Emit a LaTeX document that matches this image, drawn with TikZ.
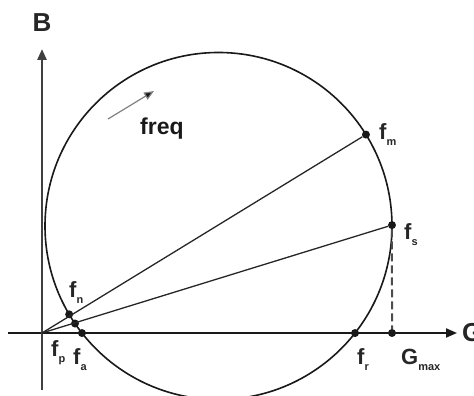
\documentclass[tikz,border=0pt]{standalone}
\usepackage{fontspec}
\setmainfont{Liberation Sans}
\usetikzlibrary{arrows.meta,calc}
\newcommand{\flab}[2]{#1\raisebox{-0.5ex}{\fontsize{11}{11}\selectfont #2}}
\tikzset{
  dot/.style={circle,fill=black!90,inner sep=0pt,minimum size=8pt},
  lbl/.style={inner sep=0pt,anchor=base west,text=black!85,font=\fontsize{22}{24}\selectfont\bfseries},
  axis/.style={line width=2pt,black!90,-{Triangle[length=11pt,width=9pt]}},
}
\begin{document}
\begin{tikzpicture}[x=1pt,y=1pt]
\useasboundingbox (0,0) rectangle (474,396);
% axes
\coordinate (O) at (42,63);
\coordinate (xl) at (8,63);
\coordinate (xr) at (457,63);
\coordinate (yb) at (42,6);
\coordinate (yt) at (42,347);
\draw[axis] (xl) -- (xr);
\draw[axis,black!75,line width=2.6pt] (yb) -- (yt);
\node[text=black!85,font=\fontsize{26}{28}\selectfont\bfseries] (B) at (42,373) {B};
\node[anchor=west,inner sep=0pt,text=black!85,font=\fontsize{26}{28}\selectfont\bfseries] (G) at (462,63) {G};

% circle
\coordinate (c) at (218.5,170);
\draw[line width=1.6pt,black!90] (c) circle (173.5);

% points
\node[dot] (fm) at ($(c)+(31.8:173.5)$) {};
\node[dot] (fs) at ($(c)+(0.3:173.5)$) {};
\node[dot] (fn) at ($(c)+(210.6:173.5)$) {};
\node[dot] (fl) at ($(c)+(214.2:173.5)$) {};
\node[dot] (fa) at ($(c)+(218.1:173.5)$) {};
\node[dot] (fr) at ($(c)+(-38.1:173.5)$) {};
\node[dot] (gm) at (392,63) {};

\draw[line width=1.3pt,black!85] (O) -- (fm);
\draw[line width=1.3pt,black!85] (O) -- (fs);
\draw[dashed,dash pattern=on 8pt off 4pt,line width=2pt,black!70] (fs) -- (gm);

% labels
\node[lbl] (lfm) at (379,256) {\flab{f}{m}};
\node[lbl] (lfs) at (404,156) {\flab{f}{s}};
\node[lbl] (lfn) at (69,98) {\flab{f}{n}};
\node[lbl] (lfp) at (51,39) {\flab{f}{p}};
\node[lbl] (lfa) at (73,31) {\flab{f}{a}};
\node[lbl] (lfr) at (357,31) {\flab{f}{r}};
\node[lbl] (lgm) at (401,31) {\flab{G}{max}};

% frequency direction
\coordinate (a0) at (108,277);
\coordinate (a1) at (154,305);
\draw[line width=1.2pt,black!50,-{Triangle[length=10pt,width=8pt,fill=black!90]}] (a0) -- (a1);
\node[lbl,text=black!90,font=\fontsize{23}{26}\selectfont\bfseries] (freq) at (140,261) {freq};
\end{tikzpicture}
\end{document}
